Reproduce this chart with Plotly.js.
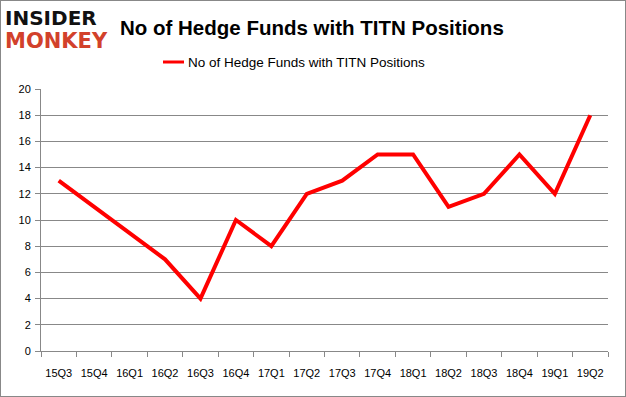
<!DOCTYPE html>
<html><head><meta charset="utf-8">
<script src="https://cdn.plot.ly/plotly-3.0.1.min.js"></script>
<style>
html,body{margin:0;padding:0;background:#fff;}
#frame{position:absolute;left:0;top:0;width:624px;height:395px;border:1px solid #888;}
#chart{position:absolute;left:0;top:0;width:626px;height:397px;}
</style></head><body>
<div id="chart"></div>
<div id="frame"></div>
<script>
const quarters = ["15Q3","15Q4","16Q1","16Q2","16Q3","16Q4","17Q1","17Q2","17Q3","17Q4","18Q1","18Q2","18Q3","18Q4","19Q1","19Q2"];
const hedgeFunds = [13,11,9,7,4,10,8,12,13,15,15,11,12,15,12,18];
const seriesName = "No of Hedge Funds with TITN Positions";
const yTicks = [0,2,4,6,8,10,12,14,16,18,20];

const trace = {
  x: quarters, y: hedgeFunds, type: "scatter", mode: "lines",
  name: seriesName, line: {color: "#ff0000", width: 4}
};
const layout = {
  width: 626, height: 397,
  margin: {l: 41, r: 18, t: 89, b: 46},
  paper_bgcolor: "#fff", plot_bgcolor: "#fff",
  showlegend: false,
  font: {family: "Liberation Sans, Arial, sans-serif", color: "#000", size: 11},
  xaxis: {
    type: "category", tickson: "boundaries", ticks: "outside", ticklen: 5, tickcolor: "#888",
    showline: true, linecolor: "#888", showgrid: false, tickfont: {size: 11},
    tickangle: 0, ticklabelstandoff: 12,
    range: [-0.5, 15.5]
  },
  yaxis: {
    range: [0, 20], tickvals: yTicks, ticks: "outside", ticklen: 5, tickcolor: "#888",
    showline: true, linecolor: "#888", gridcolor: "#888", gridwidth: 1,
    zeroline: false, tickfont: {size: 11}, ticklabelstandoff: 2
  },
  annotations: [
    {xref: "paper", yref: "paper", x: 0.1358, y: 1.2366, xanchor: "left", yanchor: "middle",
     text: "<b>No of Hedge Funds with TITN Positions</b>", showarrow: false,
     font: {size: 20.5, family: "Liberation Sans, Arial, sans-serif", color: "#000"}},
    {xref: "paper", yref: "paper", x: -0.067, y: 1.271, xanchor: "left", yanchor: "middle",
     text: "<b>INSIDER</b>", showarrow: false,
     font: {size: 20, family: "DejaVu Sans, sans-serif", color: "#111"}},
    {xref: "paper", yref: "paper", x: -0.067, y: 1.183, xanchor: "left", yanchor: "middle",
     text: "<b>MONKEY</b>", showarrow: false,
     font: {size: 21, family: "DejaVu Sans, sans-serif", color: "#d2412b"}},
    {xref: "paper", yref: "paper", x: 0, y: 1, xshift: 145, yshift: 27, xanchor: "left", yanchor: "middle",
     text: seriesName, showarrow: false,
     font: {size: 13.5, family: "Liberation Sans, Arial, sans-serif", color: "#000"}}
  ],
  shapes: [
    {type: "line", xref: "paper", yref: "paper",
     xsizemode: "pixel", ysizemode: "pixel", xanchor: 0, yanchor: 1,
     x0: 122, x1: 143, y0: 27, y1: 27, line: {color: "#ff0000", width: 3}}
  ]
};
Plotly.newPlot("chart", [trace], layout, {displayModeBar: false, staticPlot: true});
</script>
</body></html>
